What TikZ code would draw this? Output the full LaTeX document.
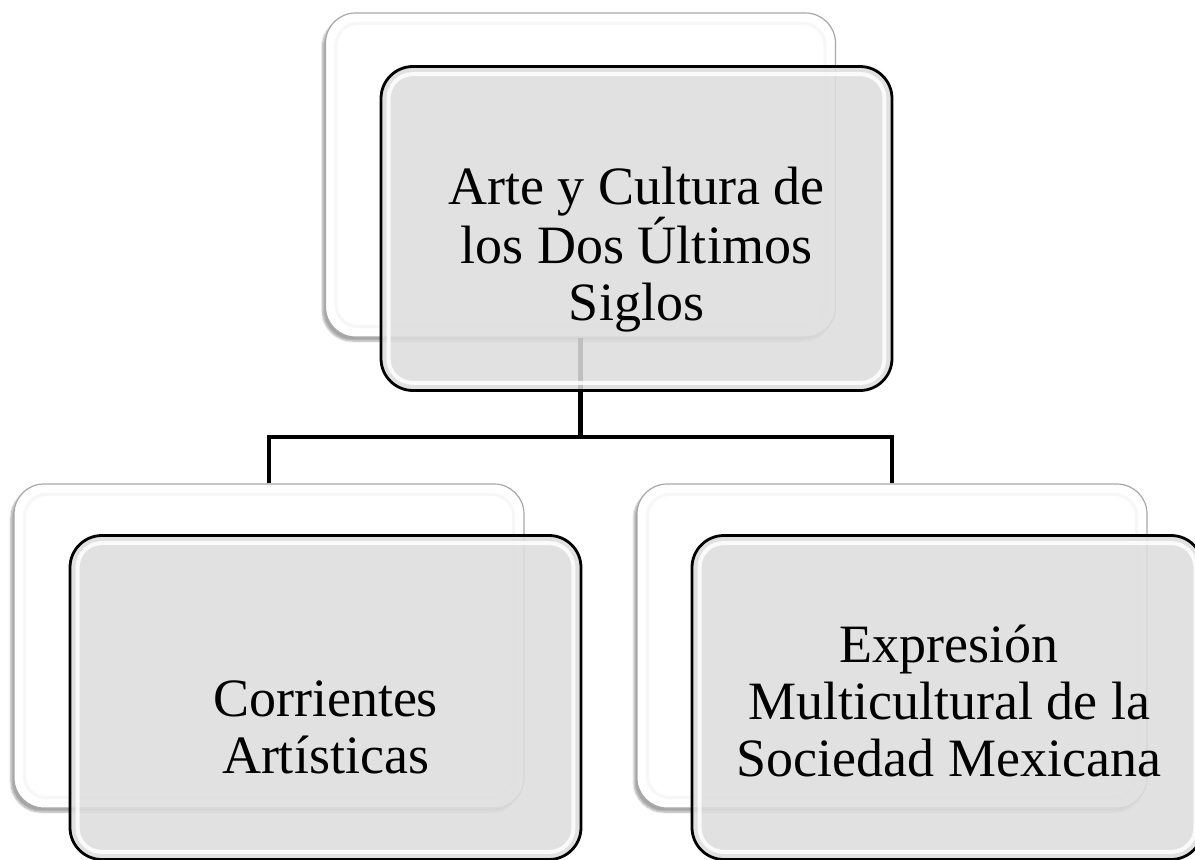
\documentclass[tikz,border=0pt]{standalone}
\usepackage{fontspec}
\setmainfont{Liberation Serif}
\usetikzlibrary{shadows.blur}
\definecolor{frontfill}{HTML}{DDDDDD}
\definecolor{backline}{HTML}{A8A8A8}
\tikzset{
  backbox/.style={draw=backline, line width=1.2pt, fill=white, rounded corners=30pt,
    minimum width=510pt, minimum height=324pt, inner sep=0pt,
    blur shadow={shadow xshift=-3pt, shadow yshift=-4pt, shadow blur steps=8, shadow opacity=35}},
  frontbox/.style={draw=black, line width=2.8pt, fill=frontfill, fill opacity=0.87, draw opacity=1,
    rounded corners=32pt, minimum width=511pt, minimum height=324pt, inner sep=0pt},
  glossy/.style={draw=white, line width=4pt, opacity=0.85, rounded corners=24pt},
  backgloss/.style={draw=black!3, line width=3pt, rounded corners=22pt},
  conn/.style={draw=black, line width=4.5pt},
  label/.style={align=center, inner sep=0pt, anchor=north, font=\fontsize{54}{57}\selectfont}
}
\begin{document}
\begin{tikzpicture}[x=1pt,y=-1pt]
\useasboundingbox (0,0) rectangle (1195,860);
% back boxes
\node[backbox] (b1) at (580.5,175) {};
\node[backbox] (b2) at (269,646) {};
\node[backbox] (b3) at (892,646) {};
\foreach \n in {b1,b2,b3}{
  \draw[backgloss] ([shift={(11pt,-11pt)}]\n.north west) rectangle ([shift={(-11pt,11pt)}]\n.south east);
}
% connectors
\coordinate (hj) at (580.5,437);
\draw[conn] (b1.south) -- (hj);
\draw[conn] (b2.north) |- (hj) -| (b3.north);
% front boxes
\node[frontbox] (f1) at (636.5,228.5) {};
\node[frontbox] (f2) at (325.5,697.5) {};
\node[frontbox] (f3) at (947.5,697.5) {};
\foreach \n in {f1,f2,f3}{
  \draw[glossy] ([shift={(9pt,-9pt)}]\n.north west) rectangle ([shift={(-9pt,9pt)}]\n.south east);
}
% texts
\node[label] (t1) at (636.5,167) {Arte y Cultura de\\los Dos Últimos\\Siglos};
\node[label] (t2) at (325.5,681) {Corrientes\\Artísticas};
\node[label] (t3) at (949,625) {Expresión\\Multicultural de la\\Sociedad Mexicana};
\end{tikzpicture}
\end{document}
